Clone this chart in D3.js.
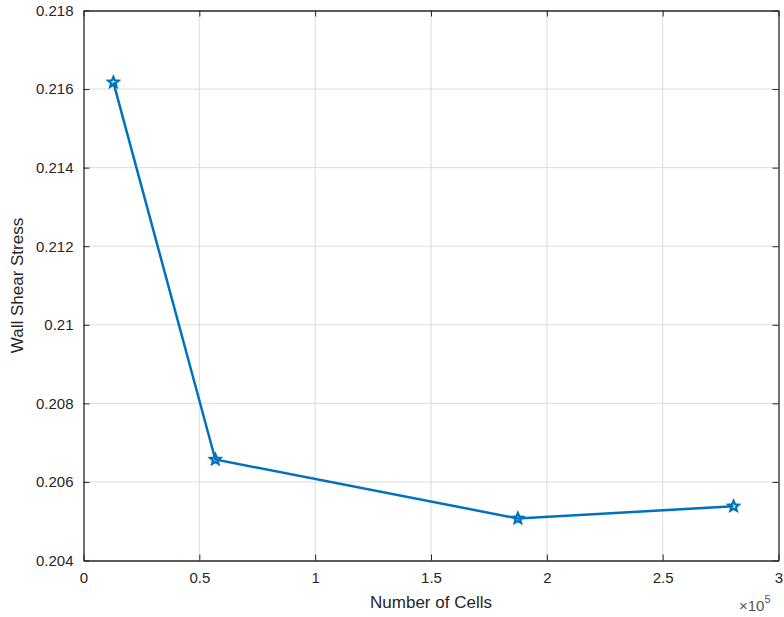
<!DOCTYPE html>
<html><head><meta charset="utf-8">
<script src="https://cdn.jsdelivr.net/npm/d3@7"></script>
<style>body{margin:0;background:#fff}svg{display:block}text{font-family:"Liberation Sans",Arial,sans-serif}</style>
</head><body>
<svg id="c" width="784" height="617"></svg>
<script>
const cells = [12900, 56900, 187500, 280600];
const wss = [0.21617, 0.20657, 0.20507, 0.20538];
const xTicks = [0, 0.5e5, 1e5, 1.5e5, 2e5, 2.5e5, 3e5];
const xTickLabels = ["0", "0.5", "1", "1.5", "2", "2.5", "3"];
const yTicks = [0.204, 0.206, 0.208, 0.21, 0.212, 0.214, 0.216, 0.218];
const yTickLabels = ["0.204", "0.206", "0.208", "0.21", "0.212", "0.214", "0.216", "0.218"];

const svg = d3.select("#c");
const L = 83.5, R = 778.5, T = 10.5, B = 560.5;
const x = d3.scaleLinear().domain([0, 3e5]).range([L, R]);
const y = d3.scaleLinear().domain([0.204, 0.218]).range([B, T]);
const axCol = "#262626", gridCol = "#dcdcdc";

// grid
svg.append("g").selectAll("line").data(xTicks.slice(1, -1)).join("line")
  .attr("x1", d => x(d)).attr("x2", d => x(d)).attr("y1", T).attr("y2", B)
  .attr("stroke", gridCol).attr("stroke-width", 1);
svg.append("g").selectAll("line").data(yTicks.slice(1, -1)).join("line")
  .attr("y1", d => y(d)).attr("y2", d => y(d)).attr("x1", L).attr("x2", R)
  .attr("stroke", gridCol).attr("stroke-width", 1);

// axes
const fmtX = (d, i) => xTickLabels[i];
const fmtY = (d, i) => yTickLabels[i];
const gx = svg.append("g").attr("transform", `translate(0,${B})`)
  .call(d3.axisBottom(x).tickValues(xTicks).tickFormat(fmtX).tickSizeInner(-6).tickSizeOuter(0).tickPadding(12));
const gxt = svg.append("g").attr("transform", `translate(0,${T})`)
  .call(d3.axisTop(x).tickValues(xTicks).tickFormat("").tickSizeInner(-6).tickSizeOuter(0));
const gy = svg.append("g").attr("transform", `translate(${L},0)`)
  .call(d3.axisLeft(y).tickValues(yTicks).tickFormat(fmtY).tickSizeInner(-6).tickSizeOuter(0).tickPadding(10));
const gyr = svg.append("g").attr("transform", `translate(${R},0)`)
  .call(d3.axisRight(y).tickValues(yTicks).tickFormat("").tickSizeInner(-6).tickSizeOuter(0));
[gx, gxt, gy, gyr].forEach(g => {
  g.select(".domain").attr("stroke", axCol).attr("stroke-width", 1.3);
  g.selectAll(".tick line").attr("stroke", axCol).attr("stroke-width", 1);
  g.selectAll("text").attr("fill", axCol).attr("font-size", 15);
});

// line
const pts = cells.map((c, i) => [x(c), y(wss[i])]);
svg.append("path").attr("d", d3.line()(pts)).attr("fill", "none")
  .attr("stroke", "#0072BD").attr("stroke-width", 2.5);

// pentagram markers
function star(r) {
  const p = [];
  for (let k = 0; k < 10; k++) {
    const a = -Math.PI / 2 + k * Math.PI / 5;
    const rr = k % 2 === 0 ? r : r * 0.45;
    p.push([rr * Math.cos(a), rr * Math.sin(a)]);
  }
  return "M" + p.map(q => q.join(",")).join("L") + "Z";
}
svg.append("g").selectAll("path").data(pts).join("path")
  .attr("transform", d => `translate(${d[0]},${d[1]})`)
  .attr("d", star(5.5)).attr("fill", "none").attr("stroke", "#0072BD").attr("stroke-width", 2.2);

// labels
svg.append("text").attr("x", 431).attr("y", 608).attr("text-anchor", "middle")
  .attr("font-size", 17).attr("fill", axCol).text("Number of Cells");
svg.append("text").attr("transform", `translate(23,${(T + B) / 2}) rotate(-90)`).attr("text-anchor", "middle")
  .attr("font-size", 17).attr("fill", axCol).text("Wall Shear Stress");
const ex = svg.append("text").attr("x", 739).attr("y", 611).attr("font-size", 15).attr("fill", "#555");
ex.append("tspan").text("\u00d710");
ex.append("tspan").attr("dy", -8).attr("font-size", 11).text("5");
</script>
</body></html>
